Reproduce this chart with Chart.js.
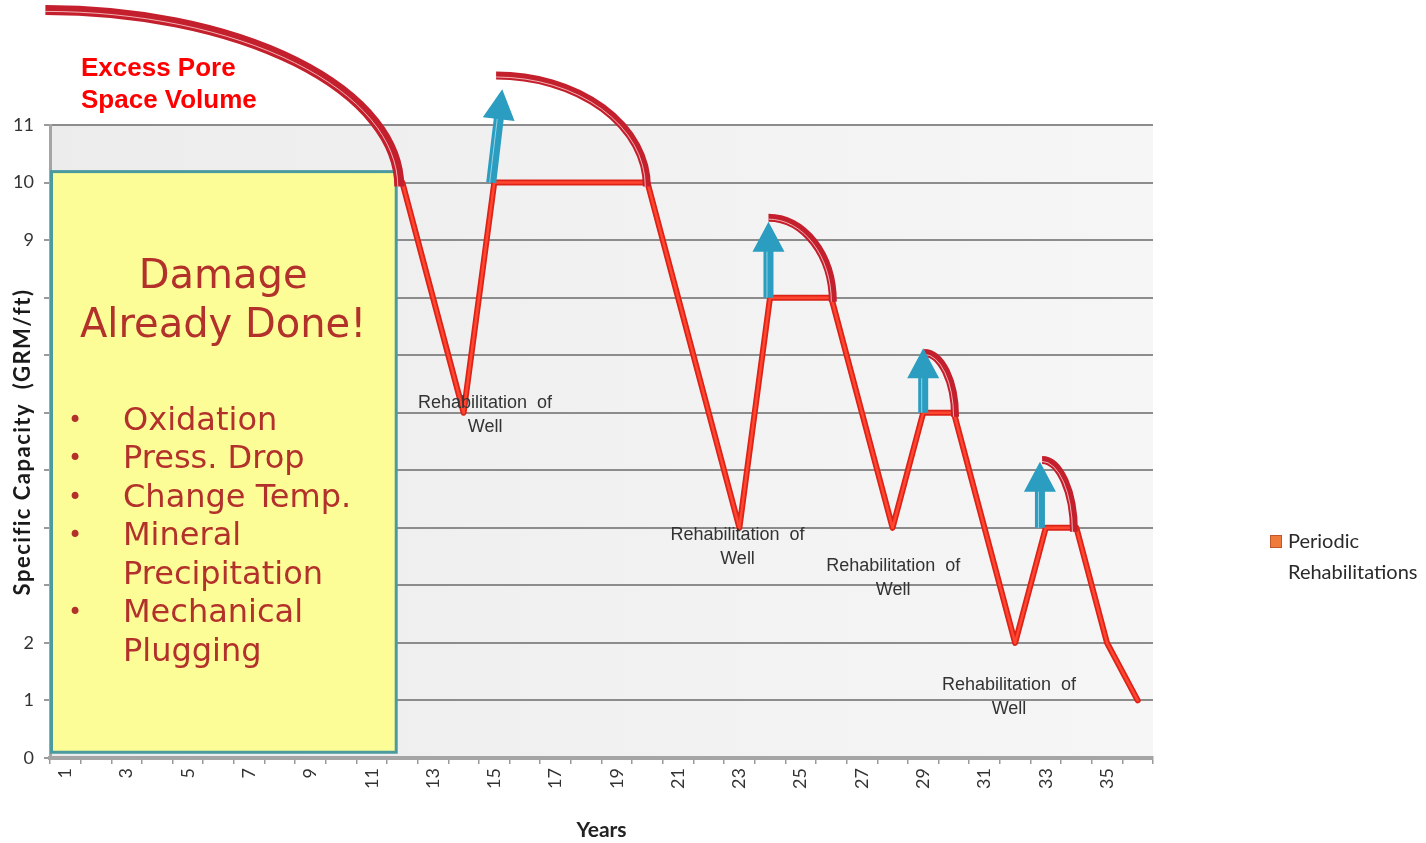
<!DOCTYPE html>
<html>
<head>
<meta charset="utf-8">
<title>Specific Capacity over Years</title>
<script src="https://cdn.jsdelivr.net/npm/chart.js@4.4.1/dist/chart.umd.min.js"></script>
<style>
  html, body { margin: 0; padding: 0; background: #fff; }
  #wrap { width: 1426px; height: 843px; }
</style>
</head>
<body>
<div id="wrap"><canvas id="chart" width="1426" height="843"></canvas></div>
<script>
// Years on the x axis (category labels)
const years = ['1', '2', '3', '4', '5', '6', '7', '8', '9', '10', '11', '12',
               '13', '14', '15', '16', '17', '18', '19', '20', '21', '22', '23', '24',
               '25', '26', '27', '28', '29', '30', '31', '32', '33', '34', '35', '36'];

// Specific capacity (GRM/ft) per year, nothing plotted before year 12
const capacity = [null, null, null, null, null, null, null, null, null, null, null,
                  10, 8, 6, 10, 10, 10, 10, 10, 10, 8, 6, 4, 8, 8, 8, 6, 4, 6, 6, 4, 2, 4, 4, 2, 1];

const seriesName = 'Periodic Rehabilitations';
const yAxisName = 'Specific Capacity  (GRM/ft)';
const xAxisName = 'Years';

const damageTitle = ['Damage', 'Already Done!'];
const damageCauses = [['Oxidation'], ['Press. Drop'], ['Change Temp.'], ['Mineral', 'Precipitation'], ['Mechanical', 'Plugging']];
const poreText = ['Excess Pore', 'Space Volume'];
const rehabText = ['Rehabilitation  of', 'Well'];

// annotation anchors in chart units: [year, value]
const rehabLabels = [[14.7, 6.16], [22.94, 3.88], [28.02, 3.34], [31.8, 1.27]];
// lost capacity arcs: [start year, top value, end year, base value]
const poreArcs = [[0.35, 13.0, 11.9, 10], [15.06, 11.86, 19.98, 10], [23.95, 9.39, 26.05, 8],
                  [29.03, 7.04, 30.04, 6], [32.88, 5.18, 33.92, 4]];
// recovery arrows: [tail year, tail value, tip year, tip value]
const rehabArrows = [[14.9, 10, 15.26, 11.62], [23.95, 8, 23.95, 9.32], [29.0, 6, 29.0, 7.12], [32.81, 4, 32.81, 5.15]];
// damage box: [from year, to year, bottom value, top value]
const damageBox = [0.5, 11.8, 0.1, 10.19];

const px = (chart, yr) => chart.scales.x.getPixelForValue(yr - 1);
const py = (chart, v) => chart.scales.y.getPixelForValue(v);

const backgroundPlugin = {
    id: 'plotBackground',
    beforeDraw(chart) {
        const { ctx, chartArea: a } = chart;
        ctx.save();
        ctx.fillStyle = '#ffffff';
        ctx.fillRect(0, 0, chart.width, chart.height);
        const g = ctx.createLinearGradient(a.left, 0, a.right, 0);
        g.addColorStop(0, '#ececec');
        g.addColorStop(1, '#f6f6f6');
        ctx.fillStyle = g;
        ctx.fillRect(a.left, a.top, a.right - a.left, a.bottom - a.top);
        ctx.restore();
    }
};

const annotationPlugin = {
    id: 'wellAnnotations',
    beforeDatasetsDraw(chart) {
        const { ctx } = chart;
        const x0 = chart.chartArea.left;
        const x1 = px(chart, damageBox[1]);
        const yb = py(chart, damageBox[2]);
        const yt = py(chart, damageBox[3]);
        ctx.save();
        ctx.fillStyle = '#fdfd98';
        ctx.fillRect(x0, yt, x1 - x0, yb - yt);
        ctx.strokeStyle = '#4b9b9e';
        ctx.lineWidth = 3;
        ctx.strokeRect(x0 + 1.5, yt, x1 - x0 - 1.5, yb - yt);
        ctx.restore();
    },
    afterDatasetsDraw(chart) {
        const { ctx } = chart;
        ctx.save();
        ctx.lineJoin = 'round';
        ctx.lineCap = 'round';

        // inner highlight of the capacity line
        const pts = chart.getDatasetMeta(0).data;
        ctx.strokeStyle = '#ff4630';
        ctx.lineWidth = 2.5;
        ctx.beginPath();
        let started = false;
        pts.forEach((p, i) => {
            if (capacity[i] === null) { started = false; return; }
            if (!started) { ctx.moveTo(p.x, p.y); started = true; } else { ctx.lineTo(p.x, p.y); }
        });
        ctx.stroke();

        // arcs
        ctx.lineCap = 'butt';
        poreArcs.forEach(([ys, top, ye, base], i) => {
            const cx = px(chart, ys), cy = py(chart, base);
            const rx = px(chart, ye) - cx, ry = cy - py(chart, top);
            const w = i === 0 ? 10 : 8;
            ctx.beginPath();
            ctx.ellipse(cx, cy + 4, rx, ry + 4, 0, -Math.PI / 2, 0);
            ctx.strokeStyle = '#c41f2c';
            ctx.lineWidth = w;
            ctx.stroke();
            ctx.beginPath();
            ctx.ellipse(cx, cy + 4, rx - 1.5, ry + 2.5, 0, -Math.PI / 2, 0);
            ctx.strokeStyle = 'rgba(255,225,225,0.75)';
            ctx.lineWidth = 1;
            ctx.stroke();
        });

        // arrows
        rehabArrows.forEach(([ty, tv, hy, hv]) => {
            const x0 = px(chart, ty), y0 = py(chart, tv);
            const x1 = px(chart, hy), y1 = py(chart, hv);
            const len = Math.hypot(x1 - x0, y1 - y0);
            const ux = (x1 - x0) / len, uy = (y1 - y0) / len;
            const nx = -uy, ny = ux;
            const head = 30, hw = 16, sw = 5;
            const bx = x1 - ux * head, by = y1 - uy * head;
            ctx.beginPath();
            ctx.moveTo(x0 + nx * sw, y0 + ny * sw);
            ctx.lineTo(bx + nx * sw, by + ny * sw);
            ctx.lineTo(bx + nx * hw, by + ny * hw);
            ctx.lineTo(x1, y1);
            ctx.lineTo(bx - nx * hw, by - ny * hw);
            ctx.lineTo(bx - nx * sw, by - ny * sw);
            ctx.lineTo(x0 - nx * sw, y0 - ny * sw);
            ctx.closePath();
            ctx.fillStyle = '#2a9dc0';
            ctx.fill();
            ctx.beginPath();
            ctx.moveTo(x0 - nx * 1.5, y0 - ny * 1.5);
            ctx.lineTo(bx - nx * 1.5, by - ny * 1.5);
            ctx.strokeStyle = 'rgba(220,245,250,0.6)';
            ctx.lineWidth = 1;
            ctx.stroke();
        });
        ctx.restore();
    },
    afterDraw(chart) {
        const { ctx, chartArea: a } = chart;
        ctx.save();

        // y axis title on a white patch (hides the middle tick labels like the source)
        ctx.fillStyle = '#ffffff';
        ctx.fillRect(4, 284, 36, 318);
        ctx.translate(23, 442);
        ctx.rotate(-Math.PI / 2);
        ctx.fillStyle = '#1a1a1a';
        ctx.font = 'bold 22px Lato';
        ctx.letterSpacing = '1.5px';
        ctx.textAlign = 'center';
        ctx.textBaseline = 'middle';
        ctx.fillText(yAxisName, 0, 0);
        ctx.setTransform(1, 0, 0, 1, 0, 0);
        ctx.letterSpacing = '0px';

        // excess pore space text
        ctx.fillStyle = '#ff0000';
        ctx.font = 'bold 26px "Liberation Sans", Arial';
        ctx.textAlign = 'left';
        ctx.textBaseline = 'middle';
        ctx.fillText(poreText[0], a.left + 31, a.top - 56);
        ctx.fillText(poreText[1], a.left + 31, a.top - 24);

        // damage box text
        const bx0 = a.left;
        const bx1 = px(chart, damageBox[1]);
        const byt = py(chart, damageBox[3]);
        ctx.fillStyle = '#b3312b';
        ctx.textAlign = 'center';
        ctx.font = '40px "DejaVu Sans"';
        ctx.fillText(damageTitle[0], (bx0 + bx1) / 2, byt + 106);
        ctx.fillText(damageTitle[1], (bx0 + bx1) / 2, byt + 155);
        ctx.textAlign = 'left';
        let line = 0;
        damageCauses.forEach(item => {
            item.forEach((t, j) => {
                const yy = byt + 250 + line * 38.5;
                if (j === 0) {
                    ctx.font = '24px "DejaVu Sans"';
                    ctx.fillText('•', bx0 + 18, yy);
                }
                ctx.font = '32px "DejaVu Sans"';
                ctx.fillText(t, bx0 + 73, yy);
                line++;
            });
        });

        // rehabilitation labels
        ctx.fillStyle = '#333333';
        ctx.font = '18px "Liberation Sans", Arial';
        ctx.textAlign = 'center';
        rehabLabels.forEach(([yr, v]) => {
            const x = px(chart, yr), y = py(chart, v);
            ctx.fillText(rehabText[0], x, y);
            ctx.fillText(rehabText[1], x, y + 24);
        });

        // legend
        ctx.fillStyle = '#f07a3a';
        ctx.fillRect(1270, 535, 12, 13);
        ctx.strokeStyle = '#c0562a';
        ctx.lineWidth = 1;
        ctx.strokeRect(1270.5, 535.5, 11, 12);
        ctx.fillStyle = '#2a2a2a';
        ctx.font = '20px Lato';
        ctx.textAlign = 'left';
        ctx.fillText('Periodic', 1288, 542);
        ctx.fillText('Rehabilitations', 1288, 573);
        ctx.restore();
    }
};

new Chart(document.getElementById('chart'), {
    type: 'line',
    data: {
        labels: years,
        datasets: [{
            label: seriesName,
            data: capacity,
            borderColor: '#dc2318',
            borderWidth: 6,
            borderJoinStyle: 'round',
            borderCapStyle: 'round',
            pointRadius: 0,
            tension: 0,
            fill: false,
            spanGaps: false
        }]
    },
    options: {
        responsive: false,
        animation: false,
        layout: { padding: { top: 125, right: 273, left: 0, bottom: 0 } },
        plugins: {
            legend: { display: false },
            tooltip: { enabled: false }
        },
        scales: {
            x: {
                offset: true,
                grid: { offset: true, drawOnChartArea: false, tickLength: 6, color: '#9a9a9a', lineWidth: 1.5 },
                border: { color: '#a5a5a5', width: 4 },
                ticks: {
                    autoSkip: false,
                    maxRotation: 90,
                    minRotation: 90,
                    padding: 4,
                    color: '#333',
                    font: { family: 'Lato', size: 18 },
                    callback: (v, i) => (i % 2 === 0 ? years[i] : '')
                },
                title: {
                    display: true,
                    text: xAxisName,
                    color: '#222',
                    font: { family: 'Lato', size: 21, weight: 'bold' },
                    padding: { top: 0, bottom: 0 }
                },
                afterFit: s => { s.height = 85; }
            },
            y: {
                min: 0,
                max: 11,
                ticks: { stepSize: 1, color: '#333', font: { family: 'Lato', size: 18 }, padding: 10 },
                grid: { color: '#8c8c8c', lineWidth: 2, tickLength: 6, tickColor: '#9a9a9a' },
                border: { color: '#a5a5a5', width: 3 },
                afterFit: s => { s.width = 50; }
            }
        }
    },
    plugins: [backgroundPlugin, annotationPlugin]
});
</script>
</body>
</html>
